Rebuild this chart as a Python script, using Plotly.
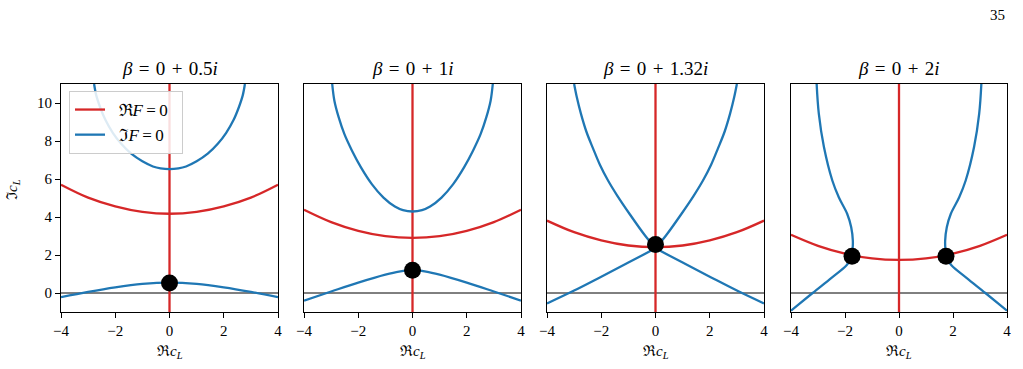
import plotly.graph_objects as go

# ---------------- data ----------------
SP = "\u2004"
titles = [f"<i>β</i>{SP}={SP}0{SP}+{SP}0.5<i>i</i>", f"<i>β</i>{SP}={SP}0{SP}+{SP}1<i>i</i>",
          f"<i>β</i>{SP}={SP}0{SP}+{SP}1.32<i>i</i>", f"<i>β</i>{SP}={SP}0{SP}+{SP}2<i>i</i>"]
x_ticks = [-4, -2, 0, 2, 4]
x_tick_text = ["−4", "−2", "0", "2", "4"]
y_ticks = [0, 2, 4, 6, 8, 10]
y_tick_text = ["0", "2", "4", "6", "8", "10"]

red_v_x = [0, 0]
red_v_y = [-1, 11]

# panel 1 (beta = 0.5i)
p1_red_x = [-4, -3, -2, -1, 0, 1, 2, 3, 4]
p1_red_y = [5.7, 5.02, 4.56, 4.27, 4.17, 4.27, 4.56, 5.02, 5.7]
p1_bt_x = [-2.78, -2.70, -2.55, -2.36, -2.09, -1.78, -1.41, -1.0, -0.61, -0.33, 0,
           0.33, 0.61, 1.0, 1.41, 1.78, 2.09, 2.36, 2.55, 2.70, 2.78]
p1_bt_y = [11, 10.4, 9.75, 9.1, 8.43, 7.85, 7.33, 6.93, 6.66, 6.56, 6.52,
           6.56, 6.66, 6.93, 7.33, 7.85, 8.43, 9.1, 9.75, 10.4, 11]
p1_bb_x = [-4, -3, -2, -1, 0, 1, 2, 3, 4]
p1_bb_y = [-0.22, 0.06, 0.3, 0.48, 0.55, 0.48, 0.3, 0.06, -0.22]
p1_dot_x = [0]
p1_dot_y = [0.53]

# panel 2 (beta = 1i)
p2_red_x = [-4, -3, -2, -1, 0, 1, 2, 3, 4]
p2_red_y = [4.38, 3.73, 3.27, 2.99, 2.9, 2.99, 3.27, 3.73, 4.38]
p2_bt_x = [-2.96, -2.88, -2.72, -2.51, -2.23, -1.9, -1.5, -1.07, -0.65, -0.35, 0,
           0.35, 0.65, 1.07, 1.5, 1.9, 2.23, 2.51, 2.72, 2.88, 2.96]
p2_bt_y = [11, 10.12, 9.24, 8.36, 7.49, 6.61, 5.73, 5.02, 4.55, 4.36, 4.29,
           4.36, 4.55, 5.02, 5.73, 6.61, 7.49, 8.36, 9.24, 10.12, 11]
p2_bb_x = [-4, -3, -2, -1, -0.5, 0, 0.5, 1, 2, 3, 4]
p2_bb_y = [-0.4, 0.08, 0.55, 0.97, 1.13, 1.2, 1.13, 0.97, 0.55, 0.08, -0.4]
p2_dot_x = [0]
p2_dot_y = [1.2]

# panel 3 (beta = 1.32i): four branches leaving the saddle at x = 0
p3_red_x = [-4, -3, -2, -1, 0, 1, 2, 3, 4]
p3_red_y = [3.81, 3.2, 2.77, 2.5, 2.41, 2.5, 2.77, 3.2, 3.81]
p3_ul_x = [0, -0.4, -0.96, -1.4, -1.75, -2.05, -2.3, -2.55, -2.75, -2.9, -3.0]
p3_ur_x = [0, 0.4, 0.96, 1.4, 1.75, 2.05, 2.3, 2.55, 2.75, 2.9, 3.0]
p3_up_y = [2.35, 3.05, 4.17, 5.1, 5.92, 6.75, 7.6, 8.5, 9.44, 10.3, 11]
p3_ll_x = [0, -1, -2, -3, -4]
p3_lr_x = [0, 1, 2, 3, 4]
p3_lo_y = [2.35, 1.6, 0.86, 0.13, -0.55]
p3_dot_x = [0]
p3_dot_y = [2.55]

# panel 4 (beta = 2i)
p4_red_x = [-4, -3, -2, -1, 0, 1, 2, 3, 4]
p4_red_y = [3.06, 2.48, 2.07, 1.82, 1.74, 1.82, 2.07, 2.48, 3.06]
p4_bl_x = [-3.05, -2.97, -2.78, -2.47, -2.23, -1.92, -1.77, -1.71, -1.72, -1.78, -1.95, -2.5, -3.2, -4]
p4_bl_y = [11, 9.44, 7.68, 5.92, 5.04, 4.17, 3.46, 2.76, 2.3, 1.8, 1.45, 0.8, 0.0, -0.93]
p4_br_x = [3.05, 2.97, 2.78, 2.47, 2.23, 1.92, 1.77, 1.71, 1.72, 1.78, 1.95, 2.5, 3.2, 4]
p4_br_y = [11, 9.44, 7.68, 5.92, 5.04, 4.17, 3.46, 2.76, 2.3, 1.8, 1.45, 0.8, 0.0, -0.93]
p4_dot_x = [-1.74, 1.74]
p4_dot_y = [1.93, 1.93]

zero_x = [-4, 4]
zero_y = [0, 0]

# ---------------- styling ----------------
RED = "#d62728"
BLUE = "#1f77b4"
LW = 2.3
FONT = "Liberation Serif, Times New Roman, Times, serif"
W, H = 1023, 369

x_px = [(61, 278), (304, 521), (547, 764), (791, 1007)]
y_px = (84, 312)

panels = [
    dict(red=(p1_red_x, p1_red_y), blues=[(p1_bt_x, p1_bt_y), (p1_bb_x, p1_bb_y)], dot=(p1_dot_x, p1_dot_y)),
    dict(red=(p2_red_x, p2_red_y), blues=[(p2_bt_x, p2_bt_y), (p2_bb_x, p2_bb_y)], dot=(p2_dot_x, p2_dot_y)),
    dict(red=(p3_red_x, p3_red_y),
         blues=[(p3_ul_x, p3_up_y), (p3_ur_x, p3_up_y), (p3_ll_x, p3_lo_y), (p3_lr_x, p3_lo_y)],
         dot=(p3_dot_x, p3_dot_y)),
    dict(red=(p4_red_x, p4_red_y), blues=[(p4_bl_x, p4_bl_y), (p4_br_x, p4_br_y)], dot=(p4_dot_x, p4_dot_y)),
]

fig = go.Figure()
annotations = []
layout_axes = {}

for i, p in enumerate(panels):
    n = "" if i == 0 else str(i + 1)
    xa, ya = "x" + n, "y" + n
    fig.add_trace(go.Scatter(x=zero_x, y=zero_y, mode="lines", xaxis=xa, yaxis=ya,
                             line=dict(color="black", width=1), showlegend=False, hoverinfo="skip"))
    fig.add_trace(go.Scatter(x=p["red"][0], y=p["red"][1], mode="lines", xaxis=xa, yaxis=ya,
                             line=dict(color=RED, width=LW, shape="spline", smoothing=1),
                             name="\u2002ℜ<i>F</i>\u2009=\u20090\u2002", showlegend=(i == 0),
                             legendgroup="re"))
    fig.add_trace(go.Scatter(x=red_v_x, y=red_v_y, mode="lines", xaxis=xa, yaxis=ya,
                             line=dict(color=RED, width=LW), showlegend=False, legendgroup="re"))
    for j, (bx, by) in enumerate(p["blues"]):
        fig.add_trace(go.Scatter(x=bx, y=by, mode="lines", xaxis=xa, yaxis=ya,
                                 line=dict(color=BLUE, width=LW, shape="spline", smoothing=1),
                                 name="\u2002ℑ<i>F</i>\u2009=\u20090\u2002",
                                 showlegend=(i == 0 and j == 0), legendgroup="im"))
    fig.add_trace(go.Scatter(x=p["dot"][0], y=p["dot"][1], mode="markers", xaxis=xa, yaxis=ya,
                             marker=dict(color="black", size=17), showlegend=False))

    x0, x1 = x_px[i]
    layout_axes["xaxis" + n] = dict(
        domain=[x0 / W, x1 / W], range=[-4, 4], anchor=ya,
        tickvals=x_ticks, ticktext=x_tick_text, ticks="outside", ticklen=5, tickwidth=1,
        tickcolor="black", showline=True, linecolor="black", linewidth=1, mirror=True,
        showgrid=False, zeroline=False, tickfont=dict(family=FONT, size=15, color="black"))
    ya_cfg = dict(
        domain=[1 - y_px[1] / H, 1 - y_px[0] / H], range=[-1, 11], anchor=xa,
        showline=True, linecolor="black", linewidth=1, mirror=True,
        showgrid=False, zeroline=False, tickfont=dict(family=FONT, size=15, color="black"))
    if i == 0:
        ya_cfg.update(tickvals=y_ticks, ticktext=y_tick_text, ticks="outside", ticklen=5,
                      tickwidth=1, tickcolor="black")
    else:
        ya_cfg.update(showticklabels=False, ticks="")
    layout_axes["yaxis" + n] = ya_cfg

    cx = (x0 + x1) / 2 / W
    annotations.append(dict(text=titles[i], x=cx, y=1 - 68 / H, xref="paper", yref="paper",
                            showarrow=False, font=dict(family=FONT, size=19, color="black"),
                            xanchor="center", yanchor="middle"))
    annotations.append(dict(text="ℜ<i>c<sub>L</sub></i>", x=cx, y=1 - 352 / H, xref="paper",
                            yref="paper", showarrow=False,
                            font=dict(family=FONT, size=15, color="black"),
                            xanchor="center", yanchor="middle"))

annotations.append(dict(text="ℑ<i>c<sub>L</sub></i>", x=13 / W, y=1 - 190 / H, xref="paper",
                        yref="paper", showarrow=False, textangle=-90,
                        font=dict(family=FONT, size=15, color="black"),
                        xanchor="center", yanchor="middle"))
annotations.append(dict(text="35", x=1007 / W, y=1 - 15 / H, xref="paper", yref="paper",
                        showarrow=False, font=dict(family=FONT, size=15, color="black"),
                        xanchor="right", yanchor="middle"))

fig.update_layout(
    width=W, height=H, margin=dict(l=0, r=0, t=0, b=0, autoexpand=False),
    paper_bgcolor="white", plot_bgcolor="white",
    annotations=annotations,
    legend=dict(x=69 / W, y=1 - 91 / H, xanchor="left", yanchor="top",
                bgcolor="rgba(255,255,255,0.85)", bordercolor="#cccccc", borderwidth=1,
                font=dict(family=FONT, size=17, color="black"), tracegroupgap=0,
                itemwidth=30),
    **layout_axes,
)

fig.write_html("out.html")
